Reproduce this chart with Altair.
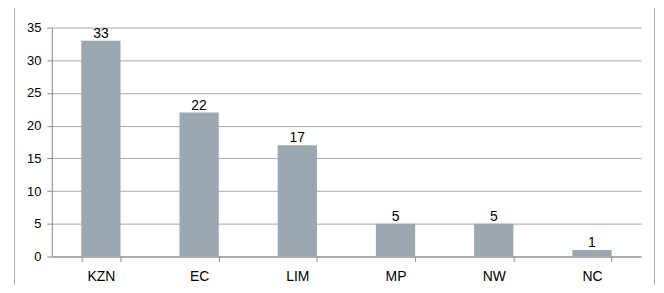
import altair as alt
import pandas as pd

regions = ["KZN", "EC", "LIM", "MP", "NW", "NC"]
counts = [33, 22, 17, 5, 5, 1]
y_ticks = [0, 5, 10, 15, 20, 25, 30, 35]

df = pd.DataFrame({"region": regions, "count": counts})

FONT = "Liberation Sans"

x = alt.X("region:N", sort=regions, title=None,
          scale=alt.Scale(paddingInner=0.6, paddingOuter=0.3),
          axis=alt.Axis(labelAngle=0, labelFontSize=14, labelFont=FONT, labelColor="#000",
                        labelPadding=8, domainColor="#888", tickColor="#888",
                        tickBand="extent", tickSize=5, grid=False))
y = alt.Y("count:Q", title=None,
          scale=alt.Scale(domain=[0, 35], nice=False),
          axis=alt.Axis(values=y_ticks, labelFontSize=13, labelFont=FONT, labelOverlap=False,
                        labelColor="#000", labelPadding=6, domainColor="#888", tickColor="#888",
                        tickSize=5, gridColor="#a6a6a6", gridWidth=1))

base = alt.Chart(df).encode(x=x, y=y)
bars = base.mark_bar(color="#9ba8b0")
labels = base.mark_text(dy=-7, fontSize=14, font=FONT, color="#000").encode(text="count:Q")

border = alt.Chart(pd.DataFrame({"a": [0]})).mark_rect(
    fill=None, stroke="#b0b0b0", strokeWidth=1, clip=False).encode(
    x=alt.value(-37.5), x2=alt.value(605.5), y=alt.value(-20.5), y2=alt.value(300))

chart = alt.layer(border, bars, labels).properties(
    width=592, height=230,
    background="white",
    autosize=alt.AutoSizeParams(type="none"),
    padding={"left": 44, "top": 19, "right": 15, "bottom": 28},
).configure_view(stroke=None)

chart.save("out.html", embed_options={"renderer": "svg", "actions": False})
